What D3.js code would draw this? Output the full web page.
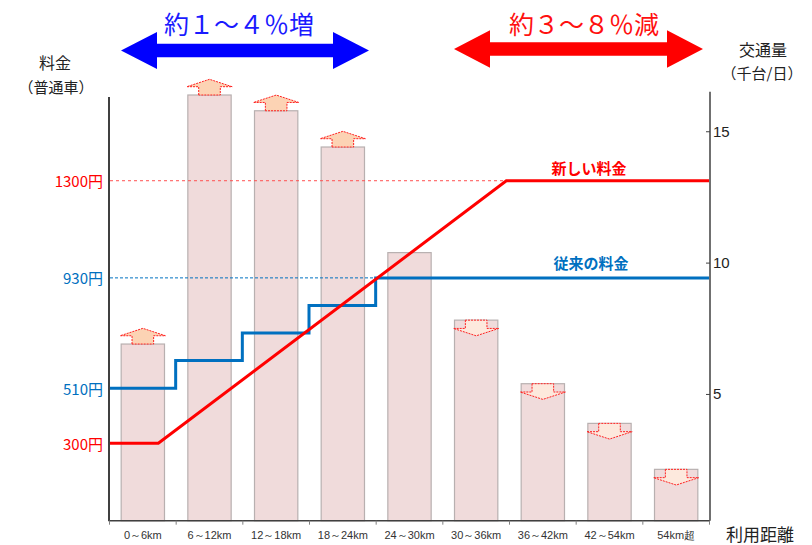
<!DOCTYPE html>
<html>
<head>
<meta charset="utf-8">
<script src="https://cdn.jsdelivr.net/npm/d3@7"></script>
<style>
  body { margin: 0; background: #fff; }
  svg { display: block; font-family: "Noto Sans CJK JP", "Noto Sans", sans-serif; }
</style>
</head>
<body>
<svg width="812" height="545"></svg>
<script>
// 区間（利用距離）
const categories = ["0～6km", "6～12km", "12～18km", "18～24km", "24～30km",
                    "30～36km", "36～42km", "42～54km", "54km超"];
// 交通量（千台/日）
const traffic = [6.9, 16.38, 15.78, 14.4, 10.38, 7.81, 5.39, 3.88, 2.13];
// 増減の向き（1:増, -1:減, 0:なし）
const change = [1, 1, 1, 1, 0, -1, -1, -1, -1];
// 従来の料金（区間ごと）
const oldFare = [
  {pos: 0, fare: 510}, {pos: 1, fare: 615}, {pos: 2, fare: 720},
  {pos: 3, fare: 825}, {pos: 4, fare: 930}, {pos: 9, fare: 930}
];
// 新しい料金（区間位置ベース）
const newFare = [
  {pos: 0, fare: 300}, {pos: 0.74, fare: 300},
  {pos: 5.96, fare: 1300}, {pos: 9, fare: 1300}
];
// 左軸の料金ラベル
const fareLabels = [
  {fare: 1300, color: "#ff0000"}, {fare: 930, color: "#0070c0"},
  {fare: 510, color: "#0070c0"}, {fare: 300, color: "#ff0000"}
];
const trafficTicks = [5, 10, 15];

const svg = d3.select("svg");

const area = { left: 109, right: 709, bottom: 520.7, top: 92 };

// шкалы
const scX = d3.scaleBand()
  .domain(categories)
  .range([area.left, area.right])
  .paddingInner(0.35)
  .paddingOuter(0.175);

const scPos = d3.scaleLinear().domain([0, 9]).range([area.left, area.right]);

const scR = d3.scaleLinear().domain([0, 16.5]).range([525.3, 91.85]);
const scL = d3.scaleLinear().domain([0, 1620]).range([522.1, 96.7]);

// 棒グラフ
svg.append("g").selectAll("rect")
  .data(traffic)
  .enter()
  .append("rect")
  .attr("x", (d, i) => scX(categories[i]) + 0.5)
  .attr("y", d => scR(d))
  .attr("width", scX.bandwidth())
  .attr("height", d => area.bottom - scR(d))
  .style("fill", "#f0dbdb")
  .style("stroke", "#b8b0b0")
  .style("stroke-width", 1.2);

// 小さい矢印
const bw = scX.bandwidth();
function arrowPath(cx, yTop, dir) {
  const hw = bw / 2 + 1, bodyW = 10.8, headH = 7.4, bodyH = 8.3;
  const k = dir > 0 ? -1 : 1; // 上向きは棒の上、下向きは棒の中
  const y0 = yTop, y1 = yTop + k * bodyH, y2 = yTop + k * (bodyH + headH);
  return `M${cx - bodyW},${y0} L${cx - bodyW},${y1} L${cx - hw},${y1}
          L${cx},${y2} L${cx + hw},${y1} L${cx + bodyW},${y1}
          L${cx + bodyW},${y0} Z`;
}

svg.append("g").selectAll("path")
  .data(traffic.map((d, i) => ({v: d, i: i, dir: change[i]})).filter(d => d.dir !== 0))
  .enter()
  .append("path")
  .attr("d", d => arrowPath(scX(categories[d.i]) + bw / 2 + 0.5, scR(d.v), d.dir))
  .style("fill", d => d.dir > 0 ? "#fcd3b4" : "#fde9dd")
  .style("stroke", "#ff2020")
  .style("stroke-width", 1)
  .style("stroke-dasharray", "2,1");

// 点線（料金の基準線）
svg.append("line")
  .attr("x1", area.left + 1).attr("x2", scPos(5.96))
  .attr("y1", scL(1300)).attr("y2", scL(1300))
  .style("stroke", "#ff5050").style("stroke-width", 1).style("stroke-dasharray", "3,3");
svg.append("line")
  .attr("x1", area.left + 1).attr("x2", scPos(4))
  .attr("y1", scL(930)).attr("y2", scL(930))
  .style("stroke", "#0070c0").style("stroke-width", 1).style("stroke-dasharray", "3,2");

// 料金の線
const lineOld = d3.line().x(d => scPos(d.pos)).y(d => scL(d.fare)).curve(d3.curveStepAfter);
const lineNew = d3.line().x(d => scPos(d.pos)).y(d => scL(d.fare));

svg.append("path").datum(oldFare)
  .attr("d", lineOld)
  .style("fill", "none").style("stroke", "#0070c0").style("stroke-width", 3);
svg.append("path").datum(newFare)
  .attr("d", lineNew)
  .style("fill", "none").style("stroke", "#ff0000").style("stroke-width", 3);

svg.append("text").attr("x", 589).attr("y", 167)
  .attr("text-anchor", "middle").attr("dominant-baseline", "central")
  .style("font-size", "15px").style("font-weight", "bold").style("fill", "#ff0000")
  .text("新しい料金");
svg.append("text").attr("x", 591).attr("y", 262)
  .attr("text-anchor", "middle").attr("dominant-baseline", "central")
  .style("font-size", "15px").style("font-weight", "bold").style("fill", "#0070c0")
  .text("従来の料金");

// 左軸
svg.append("line")
  .attr("x1", area.left).attr("x2", area.left)
  .attr("y1", 97).attr("y2", area.bottom + 0.5)
  .style("stroke", "#404040").style("stroke-width", 2);

svg.append("g").selectAll("text")
  .data(fareLabels)
  .enter()
  .append("text")
  .attr("x", 103)
  .attr("y", d => scL(d.fare))
  .attr("text-anchor", "end")
  .attr("dominant-baseline", "central")
  .style("font-size", "15px")
  .style("fill", d => d.color)
  .text(d => d.fare + "円");

// 右軸
svg.append("line")
  .attr("x1", 710).attr("x2", 710)
  .attr("y1", 91.7).attr("y2", area.bottom)
  .style("stroke", "#404040").style("stroke-width", 1.5);

const axisR = d3.axisRight(scR)
  .tickValues(trafficTicks)
  .tickSizeInner(-4)
  .tickSizeOuter(0)
  .tickPadding(3);
const gR = svg.append("g").attr("transform", "translate(710,0)").call(axisR);
gR.select(".domain").remove();
gR.selectAll("line").style("stroke", "#404040");
gR.selectAll("text")
  .style("font-size", "15px")
  .style("font-family", "'Liberation Sans', Arial, sans-serif")
  .style("fill", "#222");

// 下軸
svg.append("line")
  .attr("x1", area.left).attr("x2", 710)
  .attr("y1", area.bottom).attr("y2", area.bottom)
  .style("stroke", "#404040").style("stroke-width", 1.5);

const gTicks = svg.append("g").attr("transform", `translate(0,${area.bottom})`)
  .call(d3.axisBottom(scPos).tickValues(d3.range(10)).tickFormat("").tickSize(4).tickSizeOuter(0));
gTicks.select(".domain").remove();
gTicks.selectAll("line").style("stroke", "#808080");

const gX = svg.append("g").attr("transform", `translate(0.5,${area.bottom})`)
  .call(d3.axisBottom(scX).tickSize(0).tickPadding(11));
gX.select(".domain").remove();
gX.selectAll("text")
  .style("font-size", "11px")
  .style("fill", "#333");

// 軸タイトル
const titleStyle = sel => sel.attr("text-anchor", "middle").attr("dominant-baseline", "central")
  .style("fill", "#222");
svg.append("text").attr("x", 55).attr("y", 62).call(titleStyle)
  .style("font-size", "16px").text("料金");
svg.append("text").attr("x", 56).attr("y", 86).call(titleStyle)
  .style("font-size", "15px").text("（普通車）");
svg.append("text").attr("x", 763).attr("y", 49).call(titleStyle)
  .style("font-size", "16px").text("交通量");
svg.append("text").attr("x", 762).attr("y", 72).call(titleStyle)
  .style("font-size", "15px").text("（千台/日）");
svg.append("text").attr("x", 760).attr("y", 533).call(titleStyle)
  .style("font-size", "17px").text("利用距離");

// 大きい両矢印
function bigArrow(x1, x2, cy, shaftH, headH, headL) {
  const s = shaftH / 2, h = headH / 2;
  return `M${x1},${cy} L${x1 + headL},${cy - h} L${x1 + headL},${cy - s}
          L${x2 - headL},${cy - s} L${x2 - headL},${cy - h} L${x2},${cy}
          L${x2 - headL},${cy + h} L${x2 - headL},${cy + s} L${x1 + headL},${cy + s}
          L${x1 + headL},${cy + h} Z`;
}
svg.append("path").attr("d", bigArrow(121, 369, 50.5, 13.5, 37, 36)).style("fill", "#0000ff");
svg.append("path").attr("d", bigArrow(454, 703, 49, 13.5, 37.5, 36)).style("fill", "#ff0000");

svg.append("text").attr("x", 239).attr("y", 23)
  .attr("text-anchor", "middle").attr("dominant-baseline", "central")
  .style("font-size", "25px").style("fill", "#1a1aff")
  .text("約１～４％増");
svg.append("text").attr("x", 584).attr("y", 23)
  .attr("text-anchor", "middle").attr("dominant-baseline", "central")
  .style("font-size", "25px").style("fill", "#ff1010")
  .text("約３～８％減");
</script>
</body>
</html>
